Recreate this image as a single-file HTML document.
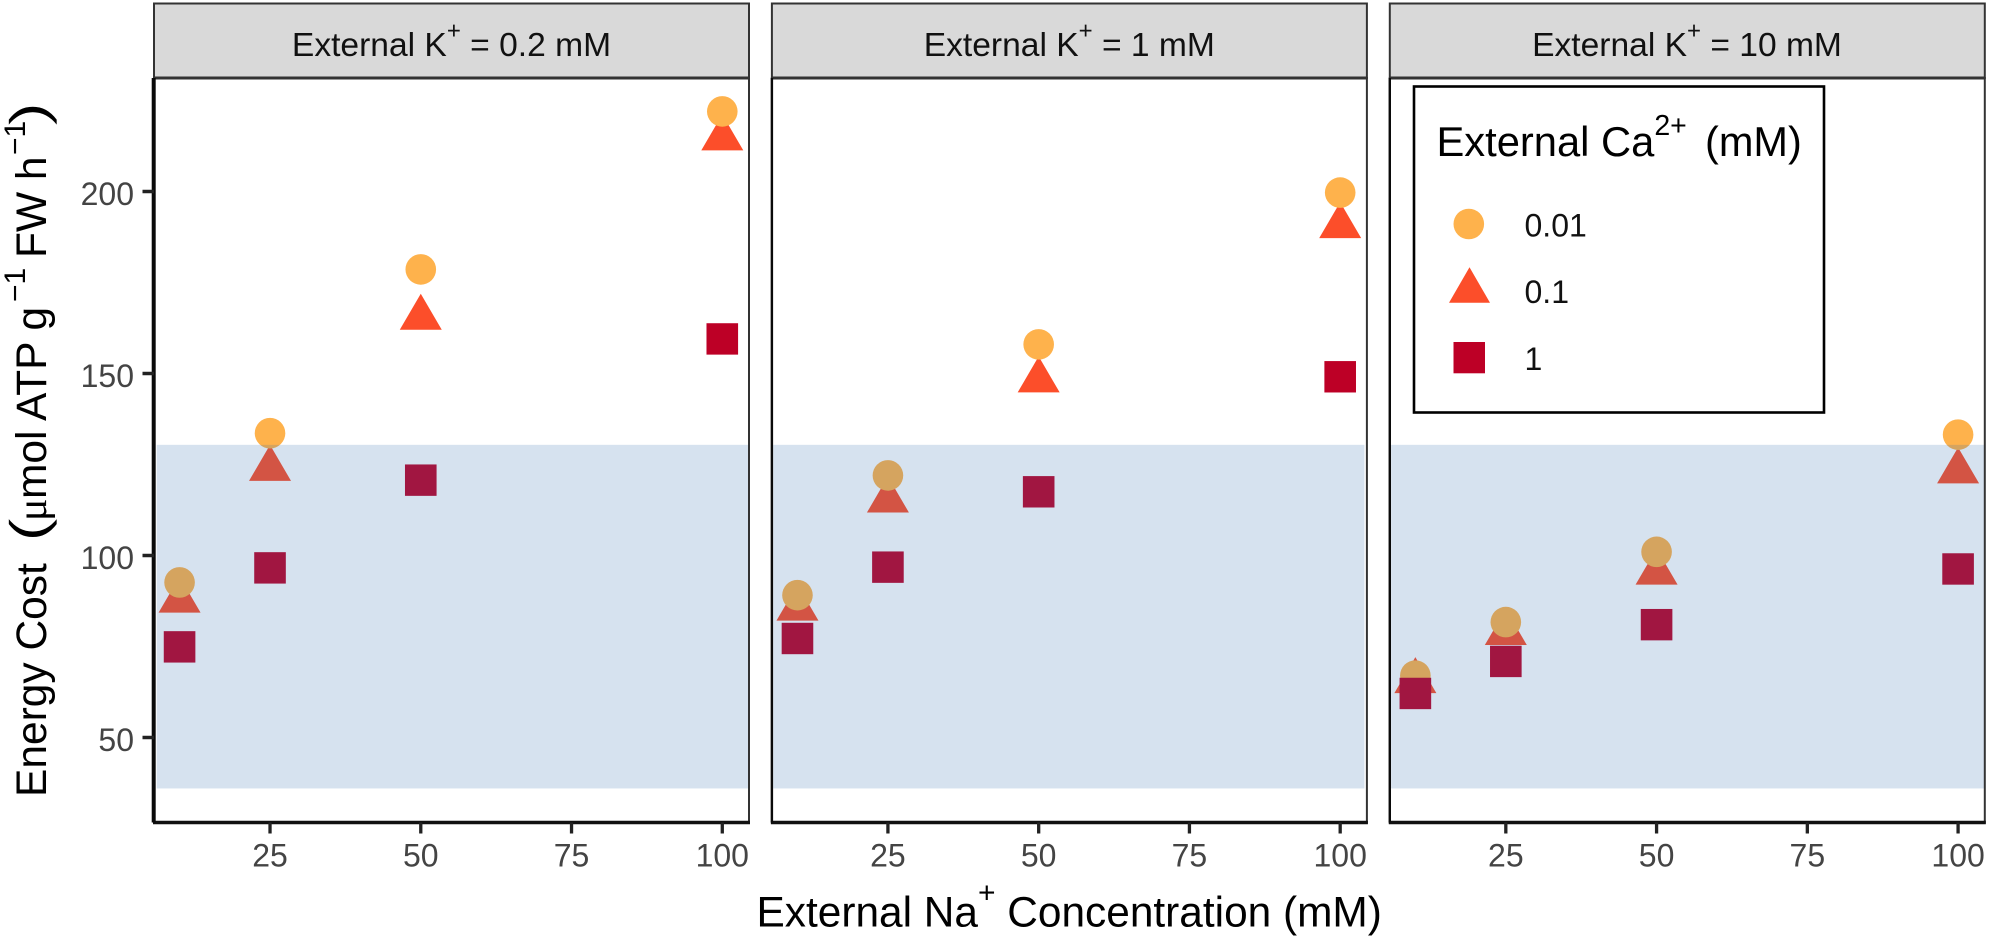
<!DOCTYPE html>
<html lang="en">
<head>
<meta charset="utf-8">
<title>Energy cost by external Na+, K+ and Ca2+</title>
<style>
html,body{margin:0;padding:0;background:#fff;width:1989px;height:939px;overflow:hidden}
svg{display:block;font-family:"Liberation Sans",Arial,sans-serif}
</style>
</head>
<body>
<svg id="chart" width="1989" height="939" viewBox="0 0 1989 939" xmlns="http://www.w3.org/2000/svg">
  <rect x="0" y="0" width="1989" height="939" fill="#fff"/>
  <g id="panels"></g>

  <g font-size="33.6" fill="#111" text-anchor="middle">
    <text x="451.5" y="56">External K<tspan font-size="24" dy="-17.3">+</tspan><tspan dy="17.3"> = 0.2 mM</tspan></text>
    <text x="1069.3" y="56">External K<tspan font-size="24" dy="-17.3">+</tspan><tspan dy="17.3"> = 1 mM</tspan></text>
    <text x="1687" y="56">External K<tspan font-size="24" dy="-17.3">+</tspan><tspan dy="17.3"> = 10 mM</tspan></text>
  </g>

  <g>
    <rect x="1414" y="86.5" width="410" height="326" fill="#fff" stroke="#000" stroke-width="2.6"/>
    <text x="1436.5" y="156" font-size="41.7" fill="#000">External Ca<tspan font-size="28.5" dy="-21">2+</tspan></text>
    <text x="1705" y="156" font-size="41.5" fill="#000">(mM)</text>
    <circle cx="1468.8" cy="224" r="15.3" fill="#FEB24C"/>
    <polygon points="1469.5,267.3 1490,302.7 1449,302.7" fill="#FC4E2A"/>
    <rect x="1453.5" y="342" width="31.5" height="31.3" fill="#BD0026"/>
    <text x="1524.5" y="236.7" font-size="32" fill="#111">0.01</text>
    <text x="1524.5" y="303" font-size="32" fill="#111">0.1</text>
    <text x="1524.5" y="370" font-size="32" fill="#111">1</text>
  </g>

  <text x="756.5" y="926.7" font-size="42.4" fill="#000">External Na<tspan font-size="30" dy="-24">+</tspan><tspan dy="24"> Concentration (mM)</tspan></text>

  <g transform="translate(46,797) rotate(-90)" fill="#000" font-size="42.5">
    <text x="0" y="0">Energy Cost</text>
    <text transform="translate(255,0) scale(1.4,1)" font-size="52" stroke="#fff" stroke-width="0.6">(</text>
    <text x="276" y="0" font-size="42" font-family="Liberation Serif, serif">μ</text>
    <text x="298" y="0">mol ATP g</text>
    <text x="495" y="-21" font-size="30">−1</text>
    <text x="539" y="0">FW h</text>
    <text x="642" y="-21" font-size="30">−1</text>
    <text transform="translate(671,0) scale(1.4,1)" font-size="52" stroke="#fff" stroke-width="0.6">)</text>
  </g>

<script>
// Shared axis data
const naConcentrations = [10, 25, 50, 100];
const xTickValues = [25, 50, 75, 100];
const yTickValues = [50, 100, 150, 200];
const bandRange = [36, 130.4];

// External K+ = 0.2 mM
const ca001AtK02 = [92.6, 133.6, 178.6, 222];
const ca01AtK02 = [87.6, 123.8, 165.3, 214.6];
const ca1AtK02 = [74.9, 96.6, 120.7, 159.5];

// External K+ = 1 mM
const ca001AtK1 = [89.1, 122, 158, 199.7];
const ca01AtK1 = [85.4, 115.1, 148.1, 190.5];
const ca1AtK1 = [77.2, 96.8, 117.5, 149.1];

// External K+ = 10 mM
const ca001AtK10 = [67, 81.7, 101, 133.2];
const ca01AtK10 = [65.5, 78.7, 95.3, 123.1];
const ca1AtK10 = [62.1, 70.9, 81, 96.3];

const circleSeries = [ca001AtK02, ca001AtK1, ca001AtK10];
const triangleSeries = [ca01AtK02, ca01AtK1, ca01AtK10];
const squareSeries = [ca1AtK02, ca1AtK1, ca1AtK10];

const SVG_NS = 'http://www.w3.org/2000/svg';
const root = document.getElementById('panels');

function panelLeft(p) { return 154 + 617.9 * p; }
function panelWidth() { return 595; }
function xScale(p, v) { return panelLeft(p) + (v - 5.76) / 98.67 * panelWidth(); }
function yScale(v) { return 737.5 - (v - 50) * 3.64; }

function make(tag, attrs, parent) {
  const el = document.createElementNS(SVG_NS, tag);
  for (const k in attrs) el.setAttribute(k, attrs[k]);
  parent.appendChild(el);
  return el;
}

function drawPanel(p) {
  const left = panelLeft(p), width = panelWidth(), right = left + width;
  const top = 78, bottom = 822.5;
  const g = make('g', {}, root);
  
  

  naConcentrations.forEach(function (na, i) {
    const x = xScale(p, na);
    const yT = yScale(triangleSeries[p][i]);
    const tri = make('polygon', {
      points: x + ',' + (yT - 24) + ' ' + (x + 21) + ',' + (yT + 12) + ' ' + (x - 21) + ',' + (yT + 12),
      fill: '#FC4E2A'
    }, g);
    
    
  });

  naConcentrations.forEach(function (na, i) {
    const circ = make('circle', {
      cx: xScale(p, na), cy: yScale(circleSeries[p][i]), r: 15.3, fill: '#FEB24C'
    }, g);
    
    
  });

  naConcentrations.forEach(function (na, i) {
    const sq = make('rect', {
      x: xScale(p, na) - 15.8, y: yScale(squareSeries[p][i]) - 15.7, width: 31.6, height: 31.4, fill: '#BD0026'
    }, g);
    
    
  });

  const bandLeft = left + (p === 0 ? 2.7 : 1.3);
  const bandRight = right - (p === 1 ? 2.5 : 0.8);
  const band = make('rect', {
    x: bandLeft, y: yScale(bandRange[1]), width: bandRight - bandLeft,
    height: yScale(bandRange[0]) - yScale(bandRange[1]),
    fill: 'rgb(50,110,175)', 'fill-opacity': 0.2
  }, g);
  
  

  const strip = make('rect', {
    x: left, y: 3.5, width: width, height: top - 3.5, fill: '#d9d9d9', stroke: '#333', 'stroke-width': 2
  }, g);
  
  

  const border = make('rect', {
    x: left, y: top, width: width, height: bottom - top, fill: 'none', stroke: '#333', 'stroke-width': 2
  }, g);
  
  

  const topLine = make('line', { x1: left, x2: right, y1: top, y2: top, stroke: '#333', 'stroke-width': 3 }, g);
  
  

  const xAxis = make('line', { x1: left - 1, x2: right + 1, y1: bottom, y2: bottom, stroke: '#111', 'stroke-width': 3.4 }, g);
  
  

  const leftLine = make('line', {
    x1: p === 0 ? left - 0.3 : left, x2: p === 0 ? left - 0.3 : left,
    y1: top, y2: bottom, stroke: '#0a0a0a', 'stroke-width': p === 0 ? 4 : 2.4
  }, g);
  
  

  xTickValues.forEach(function (t) {
    const x = xScale(p, t);
    const tick = make('line', { x1: x, x2: x, y1: bottom, y2: bottom + 11, stroke: '#222', 'stroke-width': 3.3 }, g);
    
    
    const label = make('text', { x: x, y: 866.7, 'text-anchor': 'middle', 'font-size': 32, fill: '#444' }, g);
    
    
    label.textContent = t;
  });
}

function drawYAxis() {
  const left = panelLeft(0);
  yTickValues.forEach(function (t) {
    const y = yScale(t);
    const tick = make('line', { x1: left - 11.5, x2: left, y1: y, y2: y, stroke: '#222', 'stroke-width': 3.5 }, root);
    
    
    const label = make('text', { x: 134, y: y + 13.3, 'text-anchor': 'end', 'font-size': 32, fill: '#444' }, root);
    
    
    label.textContent = t;
  });
}

[0, 1, 2].forEach(drawPanel);
drawYAxis();
</script>
</svg>
</body>
</html>
